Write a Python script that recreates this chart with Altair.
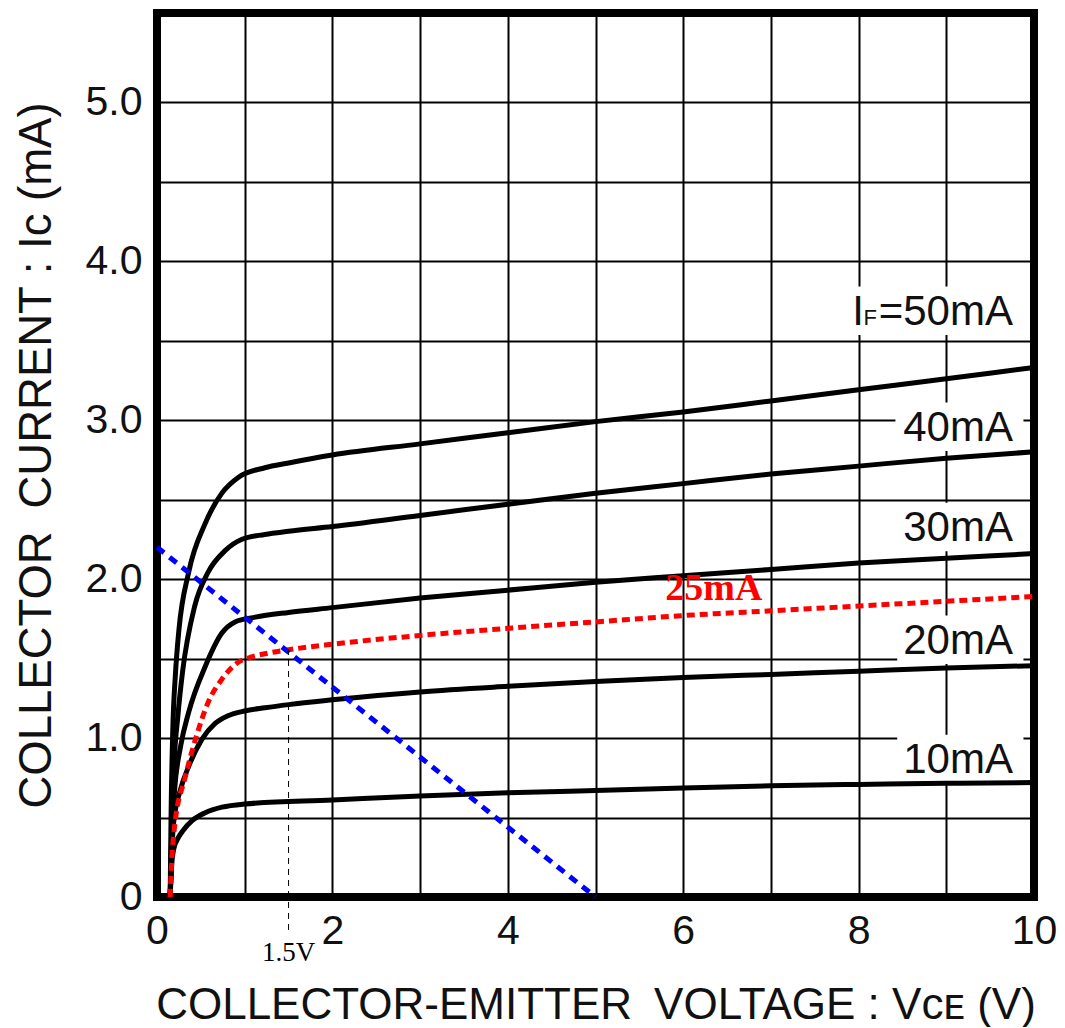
import altair as alt
import pandas as pd

# ---- data ----
v50 = [0.15, 0.16, 0.18, 0.21, 0.25, 0.36, 0.55, 0.74, 0.93, 1.23, 1.5, 2, 3, 4, 5, 6, 7, 8, 9, 10]
i50 = [0.0, 0.5, 1.05, 1.4, 1.68, 2.04, 2.35, 2.54, 2.64, 2.70, 2.73, 2.78, 2.85, 2.92, 2.99, 3.05, 3.12, 3.19, 3.26, 3.33]

v40 = [0.15, 0.17, 0.19, 0.24, 0.29, 0.43, 0.58, 0.78, 0.97, 1.23, 1.5, 2, 3, 4, 5, 6, 7, 8, 9, 10]
i40 = [0.0, 0.45, 0.78, 1.15, 1.41, 1.83, 2.04, 2.18, 2.25, 2.28, 2.30, 2.33, 2.40, 2.47, 2.54, 2.60, 2.66, 2.71, 2.76, 2.80]

v30 = [0.15, 0.17, 0.2, 0.27, 0.36, 0.55, 0.74, 0.89, 1.12, 1.5, 2, 3, 4, 5, 6, 7, 8, 9, 10]
i30 = [0.0, 0.4, 0.67, 0.95, 1.16, 1.45, 1.66, 1.73, 1.76, 1.79, 1.82, 1.88, 1.93, 1.98, 2.02, 2.06, 2.10, 2.13, 2.16]

v20 = [0.15, 0.17, 0.19, 0.27, 0.36, 0.51, 0.66, 0.81, 1.0, 1.23, 1.5, 2, 3, 4, 5, 6, 7, 8, 9, 10]
i20 = [0.0, 0.3, 0.47, 0.68, 0.82, 0.99, 1.09, 1.14, 1.17, 1.19, 1.21, 1.24, 1.29, 1.325, 1.355, 1.38, 1.40, 1.42, 1.44, 1.455]

v10 = [0.15, 0.17, 0.19, 0.24, 0.3, 0.4, 0.55, 0.74, 1.0, 2, 3, 4, 5, 6, 7, 8, 9, 10]
i10 = [0.0, 0.22, 0.30, 0.37, 0.42, 0.48, 0.53, 0.565, 0.585, 0.61, 0.635, 0.655, 0.67, 0.685, 0.70, 0.708, 0.715, 0.72]

v25 = [0.15, 0.17, 0.2, 0.32, 0.46, 0.58, 0.74, 0.91, 1.08, 1.23, 1.5, 2, 3, 4, 5, 6, 7, 8, 9, 10]
i25 = [0.0, 0.25, 0.44, 0.75, 1.03, 1.22, 1.37, 1.47, 1.51, 1.53, 1.555, 1.59, 1.645, 1.69, 1.73, 1.77, 1.80, 1.83, 1.86, 1.89]

load_v = [0, 5]
load_i = [2.2, 0]

op_v = 1.5
op_i = 1.56

series_names = ["50mA", "40mA", "30mA", "20mA", "10mA"]
label_text = ["=50mA", "40mA", "30mA", "20mA", "10mA"]
label_i = [3.60, 2.87, 2.24, 1.53, 0.78]
label_v = 9.76
box_left = [7.73, 8.42, 8.40, 8.44, 8.44]

x_ticks = list(range(0, 11))
y_ticks = [0, 0.5, 1.0, 1.5, 2.0, 2.5, 3.0, 3.5, 4.0, 4.5, 5.0]

FONT = "Liberation Sans"

# ---- tables ----
rows = []
for name, vals_v, vals_i in zip(series_names, [v50, v40, v30, v20, v10], [i50, i40, i30, i20, i10]):
    for v, c in zip(vals_v, vals_i):
        rows.append({"series": name, "V": v, "I": c})
curves = pd.DataFrame(rows)
red = pd.DataFrame({"V": v25, "I": i25})
load = pd.DataFrame({"V": load_v, "I": load_i})
labels = pd.DataFrame({"text": label_text, "I": label_i, "V": [label_v] * 5})
boxes = pd.DataFrame({
    "x1": box_left,
    "x2": [9.88] * 5,
    "y1": [c - 0.065 for c in label_i],
    "y2": [c + 0.24 for c in label_i],
})

xs = alt.Scale(domain=[0, 10], nice=False, zero=False)
ys = alt.Scale(domain=[0, 5.56], nice=False, zero=False)

x_axis = alt.Axis(
    values=x_ticks, grid=True, gridColor="black", gridWidth=2, gridOpacity=1,
    domain=False, ticks=False, tickSize=0,
    labelExpr="datum.value % 2 == 0 ? datum.value : ''",
    labelFont=FONT, labelFontSize=41, labelColor="#111", labelPadding=46,
    labelBaseline="alphabetic", labelFlush=False, labelOverlap=False,
    title="COLLECTOR-EMITTER\u2002VOLTAGE : Vᴄᴇ (V)",
    titleFont=FONT, titleFontSize=44, titleFontWeight="normal", titleColor="#111",
    titleY=121, titleBaseline="alphabetic",
)
y_axis = alt.Axis(
    values=y_ticks, grid=True, gridColor="black", gridWidth=2, gridOpacity=1,
    domain=False, ticks=False, tickSize=0,
    labelExpr="datum.value % 1 == 0 ? (datum.value == 0 ? '0' : format(datum.value, '.1f')) : ''",
    labelFont=FONT, labelFontSize=41, labelColor="#111", labelPadding=15,
    labelFlush=False, labelOverlap=False,
    title="COLLECTOR\u2002CURRENT : Iᴄ (mA)",
    titleFont=FONT, titleFontSize=45.5, titleFontWeight="normal", titleColor="#111",
    titleX=-107, titleBaseline="alphabetic",
)

box_layer = alt.Chart(boxes).mark_rect(color="white").encode(
    x=alt.X("x1:Q", scale=xs, axis=x_axis), x2="x2:Q",
    y=alt.Y("y1:Q", scale=ys, axis=y_axis), y2="y2:Q",
)

curve_layer = alt.Chart(curves).mark_line(
    color="black", strokeWidth=5, interpolate="monotone", strokeCap="round"
).encode(
    x=alt.X("V:Q", scale=xs), y=alt.Y("I:Q", scale=ys), detail="series:N", order="V:Q"
)

red_layer = alt.Chart(red).mark_line(
    color="#ff0000", strokeWidth=5, strokeDash=[8, 5], interpolate="monotone"
).encode(x=alt.X("V:Q", scale=xs), y=alt.Y("I:Q", scale=ys), order="V:Q")

load_layer = alt.Chart(load).mark_line(
    color="#0000ff", strokeWidth=5, strokeDash=[9, 7]
).encode(x=alt.X("V:Q", scale=xs), y=alt.Y("I:Q", scale=ys))

op_rule = alt.Chart(pd.DataFrame({"V": [op_v], "I": [op_i], "I2": [-0.21]})).mark_rule(
    color="black", strokeWidth=1, strokeDash=[6, 5]
).encode(x=alt.X("V:Q", scale=xs), y=alt.Y("I:Q", scale=ys), y2="I2:Q")

op_text = alt.Chart(pd.DataFrame({"V": [op_v], "I": [-0.40], "t": ["1.5V"]})).mark_text(
    font="Liberation Serif", fontSize=27, color="black", align="center", baseline="alphabetic"
).encode(x=alt.X("V:Q", scale=xs), y=alt.Y("I:Q", scale=ys), text="t:N")

red_text = alt.Chart(pd.DataFrame({"V": [6.35], "I": [1.865], "t": ["25mA"]})).mark_text(
    font="Liberation Serif", fontSize=38, fontWeight="bold", color="#ff0000",
    align="center", baseline="alphabetic"
).encode(x=alt.X("V:Q", scale=xs), y=alt.Y("I:Q", scale=ys), text="t:N")

label_layer = alt.Chart(labels).mark_text(
    font=FONT, fontSize=42, color="#111", align="right", baseline="alphabetic"
).encode(x=alt.X("V:Q", scale=xs), y=alt.Y("I:Q", scale=ys), text="text:N")

lab50 = labels.iloc[[0]]
f_layer = alt.Chart(lab50).mark_text(
    font=FONT, fontSize=22, color="#111", align="right", baseline="alphabetic", dx=-136
).encode(x=alt.X("V:Q", scale=xs), y=alt.Y("I:Q", scale=ys), text=alt.value("F"))
i_layer = alt.Chart(lab50).mark_text(
    font=FONT, fontSize=42, color="#111", align="right", baseline="alphabetic", dx=-149
).encode(x=alt.X("V:Q", scale=xs), y=alt.Y("I:Q", scale=ys), text=alt.value("I"))

chart = alt.layer(
    box_layer, curve_layer, red_layer, load_layer, op_rule, op_text, red_text,
    label_layer, f_layer, i_layer
).properties(
    width=877, height=884,
    autosize=alt.AutoSizeParams(type="none"),
    padding={"left": 149, "top": 5, "right": 23, "bottom": 130},
    background="white",
).configure_view(
    stroke="black", strokeWidth=8
)

chart.save("out.html", embed_options={"renderer": "svg", "actions": False})
